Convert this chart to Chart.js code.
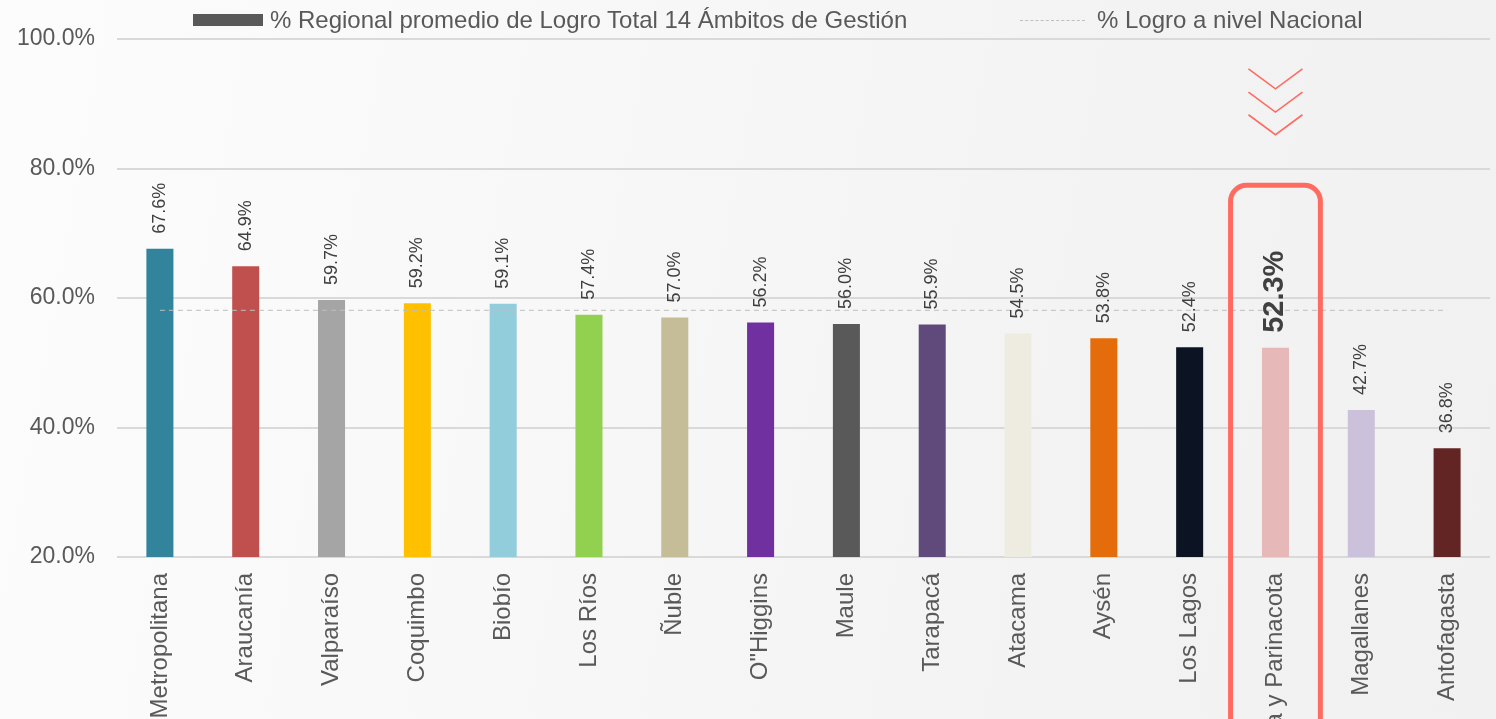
<!DOCTYPE html>
<html>
<head>
<meta charset="utf-8">
<script src="https://cdn.jsdelivr.net/npm/chart.js@4/dist/chart.umd.min.js"></script>
<style>
    html, body {
        margin: 0;
        padding: 0;
        overflow: hidden;
    }
    body {
        width: 1496px;
        height: 719px;
        background: linear-gradient(100deg, #fcfcfc 0%, #f8f8f8 35%, #f3f3f3 70%, #f1f1f1 100%);
        font-family: "Liberation Sans", Arial, sans-serif;
        position: relative;
    }
    #wrap {
        position: absolute;
        left: 0;
        top: 0;
        width: 1496px;
        height: 719px;
    }
    .legend-item {
        position: absolute;
        top: 5px;
        height: 30px;
        display: flex;
        align-items: center;
        font-size: 24px;
        color: #595959;
        white-space: nowrap;
    }
    .legend-box {
        width: 70px;
        height: 12px;
        background: #595959;
        margin-right: 7px;
    }
    .legend-line {
        width: 65px;
        height: 0;
        border-top: 1px dashed #bfbfbf;
        margin-right: 12px;
    }
</style>
</head>
<body>
<div id="wrap"><canvas id="chart"></canvas></div>
<div class="legend-item" style="left:193px"><div class="legend-box"></div><span id="leg1"></span></div>
<div class="legend-item" style="left:1020px"><div class="legend-line"></div><span id="leg2"></span></div>
<script>
const regiones = ['Metropolitana', 'Araucanía', 'Valparaíso', 'Coquimbo', 'Biobío', 'Los Ríos', 'Ñuble',
    'O"Higgins', 'Maule', 'Tarapacá', 'Atacama', 'Aysén', 'Los Lagos', 'Arica y Parinacota', 'Magallanes', 'Antofagasta'];
const logroRegional = [67.6, 64.9, 59.7, 59.2, 59.1, 57.4, 57.0, 56.2, 56.0, 55.9, 54.5, 53.8, 52.4, 52.3, 42.7, 36.8];
const logroNacional = [58.1, 58.1, 58.1, 58.1, 58.1, 58.1, 58.1, 58.1, 58.1, 58.1, 58.1, 58.1, 58.1, 58.1, 58.1, 58.1];
const colores = ['#31849B', '#C0504D', '#A5A5A5', '#FFC000', '#92CDDC', '#92D050', '#C4BD97',
    '#7030A0', '#595959', '#604A7B', '#EEECE1', '#E46C0A', '#0C1424', '#E6B9B8', '#CCC1DA', '#632523'];
const yTicks = [20, 40, 60, 80, 100];
const destacado = 'Arica y Parinacota';

const FONT = '"Liberation Sans", Arial, sans-serif';
const ROJO = '#FF6B61';

// etiquetas verticales sobre cada barra
const barLabels = {
    id: 'barLabels',
    afterDatasetsDraw(chart) {
        const ctx = chart.ctx;
        const meta = chart.getDatasetMeta(1);
        meta.data.forEach((bar, i) => {
            const isBig = regiones[i] === destacado;
            ctx.save();
            ctx.translate(bar.x, bar.y - 15);
            ctx.rotate(-Math.PI / 2);
            ctx.font = isBig ? 'bold 29px ' + FONT : '18px ' + FONT;
            ctx.fillStyle = '#404040';
            ctx.textAlign = 'left';
            ctx.textBaseline = 'middle';
            ctx.fillText(logroRegional[i].toFixed(1) + '%', 0, 0);
            ctx.restore();
        });
    }
};

// recuadro y flechas para la región destacada
const highlight = {
    id: 'highlight',
    afterDraw(chart) {
        const ctx = chart.ctx;
        const x = chart.scales.x;
        const y = chart.scales.y;
        const idx = regiones.indexOf(destacado);
        const cx = x.getPixelForValue(idx);
        const half = x.width / regiones.length / 2 + 2;
        const top = y.getPixelForValue(77.4);
        const bottom = chart.height + 30;
        const r = 16;

        ctx.save();
        ctx.strokeStyle = ROJO;
        ctx.lineWidth = 5;
        ctx.beginPath();
        ctx.moveTo(cx - half, bottom);
        ctx.lineTo(cx - half, top + r);
        ctx.arcTo(cx - half, top, cx - half + r, top, r);
        ctx.lineTo(cx + half - r, top);
        ctx.arcTo(cx + half, top, cx + half, top + r, r);
        ctx.lineTo(cx + half, bottom);
        ctx.stroke();

        ctx.lineWidth = 1.6;
        [95.4, 91.8, 88.3].forEach(v => {
            const ty = y.getPixelForValue(v);
            ctx.beginPath();
            ctx.moveTo(cx - 27, ty);
            ctx.lineTo(cx, ty + 20);
            ctx.lineTo(cx + 27, ty);
            ctx.stroke();
        });
        ctx.restore();
    }
};

const chart = new Chart(document.getElementById('chart'), {
    type: 'bar',
    data: {
        labels: regiones,
        datasets: [
            {
                type: 'line',
                label: '% Logro a nivel Nacional',
                data: logroNacional,
                borderColor: '#bfbfbf',
                borderWidth: 1,
                borderDash: [5, 4],
                pointRadius: 0,
                fill: false,
                order: 0
            },
            {
                label: '% Regional promedio de Logro Total 14 Ámbitos de Gestión',
                data: logroRegional,
                backgroundColor: colores,
                categoryPercentage: 1,
                barPercentage: 0.315,
                order: 1
            }
        ]
    },
    options: {
        responsive: true,
        maintainAspectRatio: false,
        animation: false,
        layout: {
            padding: {top: 39, right: 6, bottom: 0, left: 0}
        },
        plugins: {
            legend: {display: false},
            tooltip: {enabled: false}
        },
        scales: {
            x: {
                grid: {display: false},
                border: {display: false},
                ticks: {
                    minRotation: 90,
                    maxRotation: 90,
                    autoSkip: false,
                    padding: 8,
                    color: '#595959',
                    font: {family: FONT, size: 24}
                },
                afterFit(scale) {
                    scale.height = 162;
                }
            },
            y: {
                min: 20,
                max: 100,
                afterBuildTicks(scale) {
                    scale.ticks = yTicks.map(v => ({value: v}));
                },
                grid: {color: '#d9d9d9', lineWidth: 2, drawTicks: false},
                border: {display: false},
                ticks: {
                    padding: 22,
                    color: '#595959',
                    font: {family: FONT, size: 23},
                    callback: v => v.toFixed(1) + '%'
                },
                afterFit(scale) {
                    scale.width = 117;
                }
            }
        }
    },
    plugins: [barLabels, highlight]
});

document.getElementById('leg1').textContent = chart.data.datasets[1].label;
document.getElementById('leg2').textContent = chart.data.datasets[0].label;
</script>
</body>
</html>
